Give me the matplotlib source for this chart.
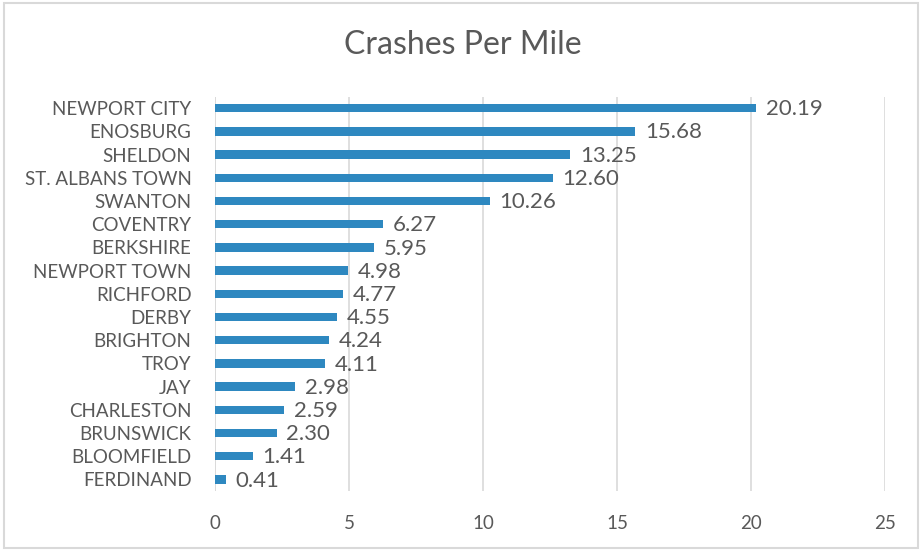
import matplotlib
matplotlib.use("Agg")
import matplotlib.pyplot as plt
from matplotlib.patches import Rectangle

# crashes per mile by town
towns = ["NEWPORT CITY", "ENOSBURG", "SHELDON", "ST. ALBANS TOWN", "SWANTON",
         "COVENTRY", "BERKSHIRE", "NEWPORT TOWN", "RICHFORD", "DERBY",
         "BRIGHTON", "TROY", "JAY", "CHARLESTON", "BRUNSWICK", "BLOOMFIELD",
         "FERDINAND"]
rates = [20.19, 15.68, 13.25, 12.60, 10.26, 6.27, 5.95, 4.98, 4.77, 4.55,
         4.24, 4.11, 2.98, 2.59, 2.30, 1.41, 0.41]
xticks = [0, 5, 10, 15, 20, 25]

plt.rcParams['font.family'] = ['Lato', 'DejaVu Sans']
txt = '#595959'
barcol = '#2E88C0'

fig = plt.figure(figsize=(9.22, 5.5), dpi=100)
ax = fig.add_axes([0.2332, 0.1073, 0.7267, 0.7172])

ypos = list(range(len(towns)))
ax.barh(ypos, rates, height=0.36, color=barcol, zorder=3)
for y, v in zip(ypos, rates):
    ax.text(v + 0.36, y + 0.05, f"{v:.2f}", va='center', ha='left', fontsize=16, color=txt)

ax.set_yticks(ypos)
ax.set_yticklabels(towns, fontsize=13.5, color=txt)
ax.set_ylim(len(towns) - 0.5, -0.5)
ax.set_xlim(0, 25)
ax.set_xticks(xticks)
ax.set_xticklabels([str(t) for t in xticks], fontsize=13.5, color=txt)
ax.tick_params(length=0)
ax.tick_params(axis='x', pad=17)
ax.tick_params(axis='y', pad=17)
ax.grid(axis='x', color='#D9D9D9', linewidth=1.2, zorder=0)
for s in ax.spines.values():
    s.set_visible(False)
ax.axvline(0, color='#D9D9D9', linewidth=1.2, zorder=1)

fig.text(0.502, 0.918, "Crashes Per Mile", ha='center', va='center', fontsize=23, color=txt)

# chart frame
fig.patches.append(Rectangle((0.004, 0.004), 0.992, 0.99, transform=fig.transFigure,
                             fill=False, edgecolor='#D9D9D9', linewidth=1.5))

fig.savefig("out.png", dpi=100)
